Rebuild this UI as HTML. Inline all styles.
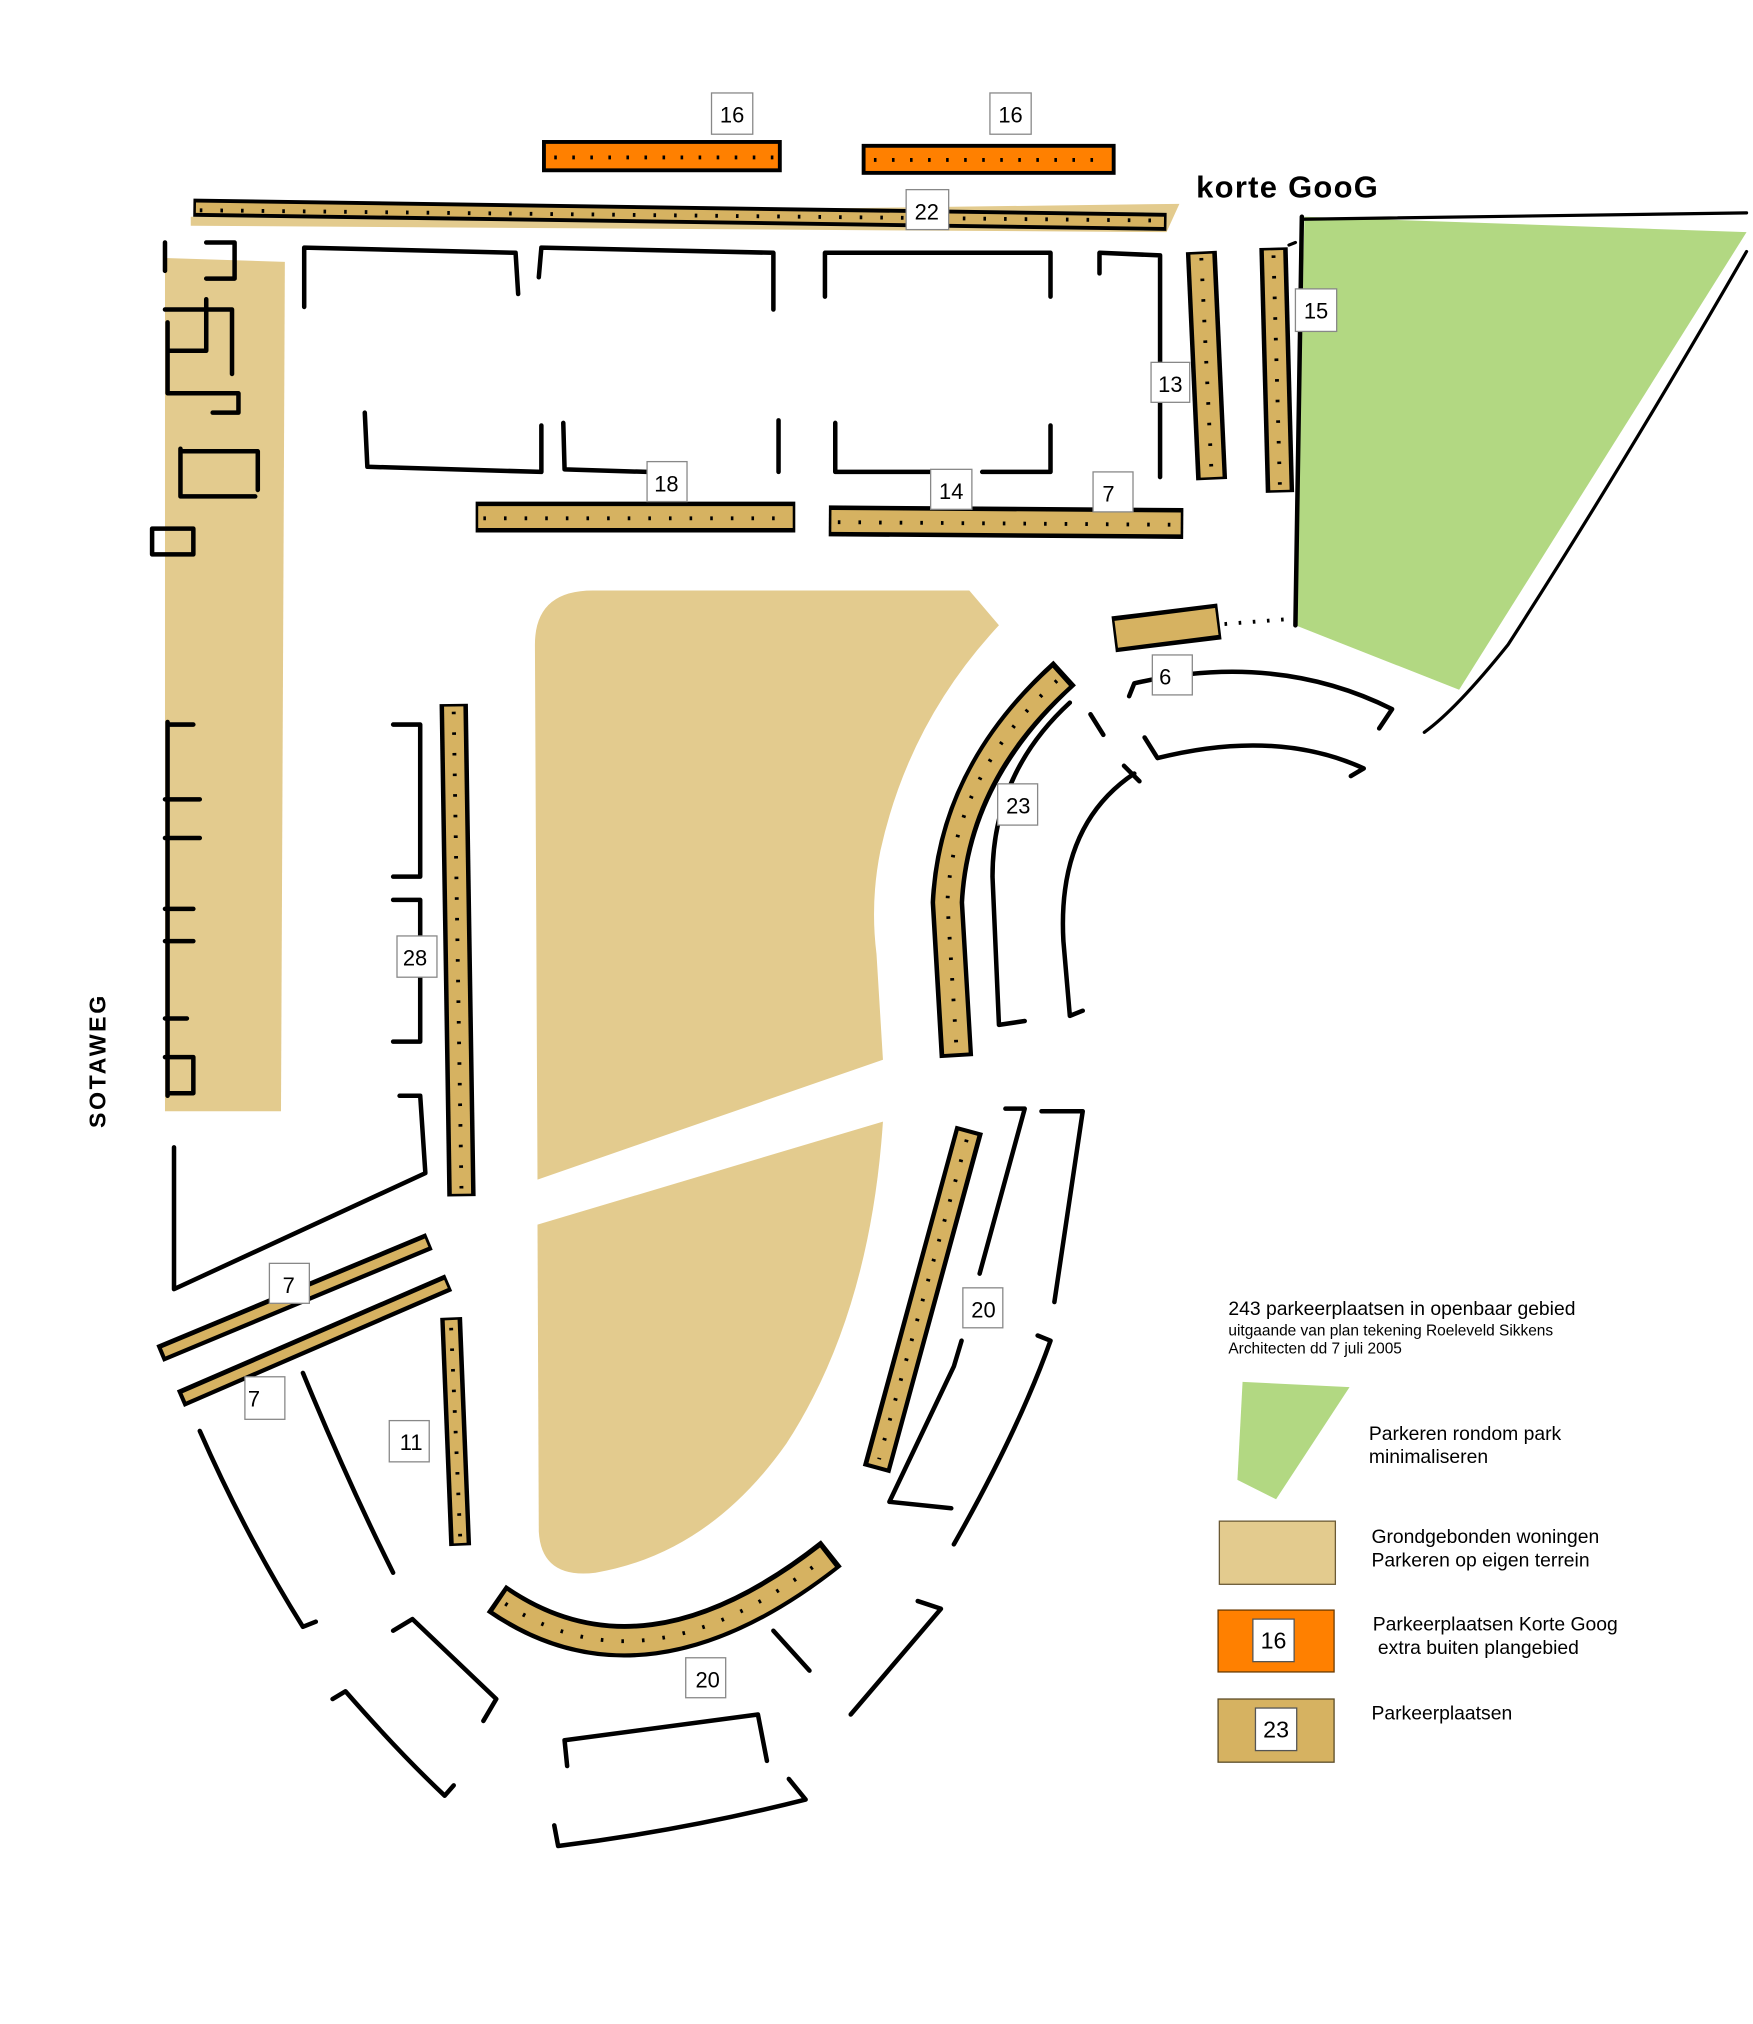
<!DOCTYPE html>
<html><head><meta charset="utf-8"><style>
html,body{margin:0;padding:0;background:#fff;width:1753px;height:2024px;overflow:hidden}
svg{display:block}
text{font-family:"Liberation Sans",sans-serif}
</style></head><body>
<svg width="1753" height="2024" viewBox="0 0 1360 1570" xmlns="http://www.w3.org/2000/svg">
<defs>
<g id="x"></g>
</defs>
<!-- tan areas -->
<polygon points="128,200 221,203 218,862 128,862" fill="#e3cb8e"/>
<path d="M415,500 Q415,458 460,458 L752,458 L775,485 Q705,560 683,660 Q675,700 680,740 L685,822 L417,915 Z" fill="#e3cb8e"/>
<path d="M417,950 L685,870 Q675,1020 610,1120 Q550,1205 462,1220 Q420,1225 418,1188 Z" fill="#e3cb8e"/>
<polygon points="1012,168 1355,180 1132,535 1005,485" fill="#b2d882"/>
<polygon points="148,168 915,158 905,180 148,175" fill="#e3cb8e"/>

<g fill="none" stroke="#000" stroke-width="3" stroke-linecap="round">
<!-- parking strips: black wide under, colored narrower -->
</g>
<g stroke-linecap="butt" fill="none">
<g stroke="#000">
<line x1="150" y1="161" x2="905" y2="172" stroke-width="14"/>
<line x1="932" y1="195" x2="940" y2="372" stroke-width="24"/>
<line x1="988" y1="192" x2="993" y2="382" stroke-width="22"/>
<line x1="352" y1="546" x2="358" y2="928" stroke-width="22"/>
<line x1="350" y1="1022" x2="357" y2="1199" stroke-width="17"/>
<line x1="369" y1="401" x2="617" y2="401" stroke-width="24"/>
<line x1="643" y1="404" x2="918" y2="406" stroke-width="24"/>
<line x1="864" y1="492" x2="946" y2="482" stroke-width="28"/>
<path d="M826,522 Q740,600 735,700 L742,820" stroke-width="26"/>
<path d="M752,876 L680,1140" stroke-width="22"/>
<path d="M385,1240 Q500,1320 645,1205" stroke-width="26"/>
<line x1="124" y1="1050" x2="333" y2="963" stroke-width="14"/>
<line x1="140" y1="1085" x2="348" y2="995" stroke-width="14"/>
</g>
<g stroke="#d6b261">
<line x1="152" y1="161" x2="903" y2="172" stroke-width="8"/>
<line x1="932" y1="197" x2="940" y2="370" stroke-width="17"/>
<line x1="988" y1="194" x2="993" y2="380" stroke-width="15"/>
<line x1="352" y1="548" x2="358" y2="926" stroke-width="15"/>
<line x1="350" y1="1024" x2="357" y2="1197" stroke-width="10"/>
<line x1="371" y1="401" x2="615" y2="401" stroke-width="17"/>
<line x1="645" y1="404" x2="916" y2="406" stroke-width="17"/>
<line x1="866" y1="492" x2="944" y2="482" stroke-width="21"/>
<path d="M823,525 Q740,600 735,700 L742,817" stroke-width="19"/>
<path d="M751,879 L681,1137" stroke-width="15"/>
<path d="M388,1242 Q500,1318 642,1208" stroke-width="19"/>
<line x1="127" y1="1049" x2="331" y2="964" stroke-width="7"/>
<line x1="143" y1="1084" x2="346" y2="996" stroke-width="7"/>
</g>
<g stroke="#000" stroke-width="3" stroke-dasharray="2 14">
<line x1="155" y1="163" x2="900" y2="171"/>
<line x1="932" y1="200" x2="940" y2="368"/>
<line x1="988" y1="198" x2="993" y2="378"/>
<line x1="352" y1="552" x2="358" y2="922"/>
<line x1="350" y1="1030" x2="357" y2="1192"/>
<line x1="375" y1="402" x2="612" y2="402"/>
<line x1="650" y1="405" x2="912" y2="407"/>
<path d="M820,528 Q740,600 735,700 L742,812"/>
<path d="M750,884 L682,1132"/>
<path d="M392,1244 Q500,1316 638,1210"/>
</g>
</g>
<!-- orange -->
<rect x="422" y="110" width="183" height="22" fill="#ff8000" stroke="#000" stroke-width="3"/>
<rect x="670" y="113" width="194" height="21" fill="#ff8000" stroke="#000" stroke-width="3"/>
<g stroke="#000" stroke-width="3" stroke-dasharray="2 12"><line x1="430" y1="122" x2="600" y2="122"/><line x1="678" y1="124" x2="858" y2="124"/></g>
<line x1="950" y1="484" x2="1002" y2="480" stroke="#000" stroke-width="3" stroke-dasharray="2 9"/>

<!-- outlines -->
<g fill="none" stroke="#000" stroke-width="3.5" stroke-linecap="round" stroke-linejoin="round">
<path d="M236,238 L236,192 L400,196 L402,228"/>
<path d="M418,215 L420,192 L600,196 L600,240"/>
<path d="M640,230 L640,196 L815,196 L815,230"/>
<path d="M853,212 L853,196 L900,198 L900,370"/>
<path d="M283,320 L285,362 L420,366 L420,330"/>
<path d="M437,328 L438,364 L502,366"/>
<path d="M604,326 L604,366"/>
<path d="M648,328 L648,366 L722,366"/>
<path d="M762,366 L815,366 L815,330"/>
<path d="M160,188 L182,188 L182,216 L160,216 M128,188 L128,210 M128,240 L180,240 L180,290 M130,250 L130,305 L185,305 L185,320 L165,320 M130,272 L160,272 L160,232"/>
<path d="M140,348 L140,385 L198,385 M140,350 L200,350 L200,380 M118,410 L150,410 L150,430 L118,430 L118,410"/>
<path d="M130,560 L130,850 M130,562 L150,562 M128,620 L155,620 M128,650 L155,650 M128,705 L150,705 M128,730 L150,730 M128,790 L145,790 M128,820 L150,820 L150,848 L130,848"/>
<path d="M305,562 L326,562 L326,680 L305,680 M305,698 L326,698 L326,808 L305,808 M310,850 L326,850 L330,910 L135,1000 L135,890"/>
<path d="M235,1065 Q270,1150 305,1220"/>
<path d="M155,1110 Q190,1190 235,1262 L245,1258"/>
<path d="M305,1265 L320,1256 L385,1318 L375,1335"/>
<path d="M258,1318 L268,1312 Q310,1360 345,1393 L352,1385"/>
<path d="M440,1370 L438,1350 L588,1330 L595,1366"/>
<path d="M430,1416 L433,1432 Q530,1420 625,1396 L612,1380"/>
<path d="M600,1265 L628,1296"/>
<path d="M660,1330 L730,1248 L712,1242"/>
<path d="M690,1165 L740,1060 L746,1040 M690,1165 L738,1170"/>
<path d="M740,1198 Q790,1110 815,1040 L805,1036"/>
<path d="M780,860 L795,860 L760,988 M808,862 L840,862 L818,1010"/>
<path d="M830,545 Q770,600 770,680 L775,795 L795,792"/>
<path d="M880,600 Q820,640 825,730 L830,788 L840,784"/>
<path d="M876,540 L880,530 Q990,505 1080,550 L1070,565"/>
<path d="M888,572 L898,588 Q990,565 1058,596 L1048,602"/>
<path d="M846,554 L856,570 M872,594 L884,606"/>
<path d="M1000,190 L1005,188 M1010,170 L1355,165" stroke-width="2.5"/>
<path d="M1355,195 Q1260,360 1170,500 Q1130,550 1105,568" stroke-width="2.5"/>
<path d="M1010,168 L1005,485"/>
</g>

<!-- labels -->
<g font-size="17" text-anchor="middle">
<g fill="#fff" stroke="#888" stroke-width="1">
<rect x="552" y="72" width="32" height="32"/><rect x="768" y="72" width="32" height="32"/>
<rect x="703" y="147" width="33" height="31"/><rect x="893" y="281" width="30" height="31"/>
<rect x="1005" y="224" width="32" height="33"/><rect x="502" y="358" width="31" height="31"/>
<rect x="722" y="364" width="32" height="31"/><rect x="848" y="366" width="31" height="31"/>
<rect x="894" y="508" width="31" height="31"/><rect x="774" y="608" width="31" height="32"/>
<rect x="308" y="726" width="31" height="32"/><rect x="209" y="980" width="31" height="31"/>
<rect x="190" y="1068" width="31" height="33"/><rect x="302" y="1102" width="31" height="32"/>
<rect x="747" y="999" width="31" height="31"/><rect x="532" y="1286" width="31" height="31"/>
</g>
<text x="568" y="95">16</text><text x="784" y="95">16</text><text x="719" y="170">22</text>
<text x="908" y="304">13</text><text x="1021" y="247">15</text><text x="517" y="381">18</text>
<text x="738" y="387">14</text><text x="860" y="389">7</text><text x="904" y="531">6</text>
<text x="790" y="631">23</text><text x="322" y="749">28</text><text x="224" y="1003">7</text>
<text x="197" y="1091">7</text><text x="319" y="1125">11</text><text x="763" y="1022">20</text>
<text x="549" y="1309">20</text>
</g>
<text x="928" y="153" font-size="24" font-weight="bold" font-family="Liberation Mono,monospace" letter-spacing="1">korte GooG</text>
<text transform="translate(82,875) rotate(-90)" font-size="18" font-weight="bold" letter-spacing="2">SOTAWEG</text>

<!-- legend -->
<text x="953" y="1020" font-size="15">243 parkeerplaatsen in openbaar gebied</text>
<text x="953" y="1036" font-size="12">uitgaande van plan tekening Roeleveld Sikkens</text>
<text x="953" y="1050" font-size="12">Architecten dd 7 juli 2005</text>
<polygon points="964,1072 1047,1076 990,1163 960,1148" fill="#b2d882"/>
<text x="1062" y="1117" font-size="15">Parkeren rondom park</text>
<text x="1062" y="1135" font-size="15">minimaliseren</text>
<rect x="946" y="1180" width="90" height="49" fill="#e3cb8e" stroke="#6b5a35" stroke-width="1"/>
<text x="1064" y="1197" font-size="15">Grondgebonden woningen</text>
<text x="1064" y="1215" font-size="15">Parkeren op eigen terrein</text>
<rect x="945" y="1249" width="90" height="48" fill="#ff8000" stroke="#6b3a00" stroke-width="1"/>
<rect x="972" y="1256" width="32" height="33" fill="#fff" stroke="#555"/>
<text x="988" y="1279" font-size="18" text-anchor="middle">16</text>
<text x="1065" y="1265" font-size="15">Parkeerplaatsen Korte Goog</text>
<text x="1069" y="1283" font-size="15">extra buiten plangebied</text>
<rect x="945" y="1318" width="90" height="49" fill="#d6b261" stroke="#5a4a25" stroke-width="1"/>
<rect x="974" y="1325" width="32" height="33" fill="#fff" stroke="#555"/>
<text x="990" y="1348" font-size="18" text-anchor="middle">23</text>
<text x="1064" y="1334" font-size="15">Parkeerplaatsen</text>
</svg>
</body></html>
